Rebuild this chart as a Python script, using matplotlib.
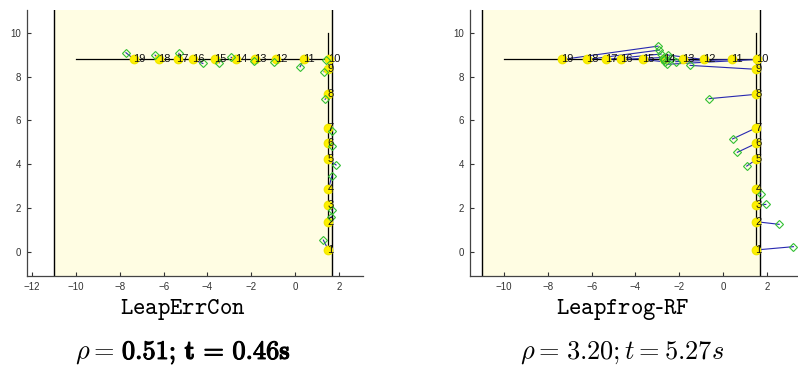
import matplotlib
matplotlib.use("Agg")
import matplotlib.pyplot as plt
import matplotlib.patheffects as pe
from matplotlib.patches import Rectangle

plt.rcParams['mathtext.fontset'] = 'cm'
plt.rcParams['font.family'] = ['Liberation Sans', 'DejaVu Sans']

# ---- data ----
labels = [str(i) for i in range(1, 20)]
true_x = [1.52, 1.52, 1.52, 1.52, 1.52, 1.52, 1.52, 1.52, 1.52, 1.55,
          0.41, -0.87, -1.83, -2.69, -3.65, -4.67, -5.36, -6.20, -7.34]
true_y = [0.08, 1.37, 2.13, 2.85, 4.22, 4.95, 5.66, 7.19, 8.33, 8.78,
          8.78, 8.78, 8.78, 8.78, 8.78, 8.78, 8.78, 8.78, 8.78]

est_left_x = [1.29, 1.65, 1.68, 1.68, 1.87, 1.70, 1.68, 1.37, 1.32, 1.42,
              0.23, -0.96, -1.87, -2.92, -3.46, -4.21, -5.30, -6.39, -7.72]
est_left_y = [0.53, 1.60, 1.90, 3.46, 3.96, 4.84, 5.51, 6.96, 8.22, 8.75,
              8.45, 8.66, 8.71, 8.88, 8.63, 8.60, 9.06, 8.98, 9.09]

est_right_x = [3.21, 2.56, 1.95, 1.72, 1.08, 0.65, 0.43, -0.64, -1.51, -2.57,
               -2.16, -2.50, -2.69, -2.40, -2.65, -2.75, -2.83, -2.91, -2.97]
est_right_y = [0.23, 1.25, 2.16, 2.62, 3.91, 4.54, 5.15, 6.99, 8.51, 8.56,
               8.68, 8.98, 8.75, 8.85, 8.67, 8.87, 9.03, 9.21, 9.39]

path_h_x = [-10, 1.52]
path_h_y = [8.78, 8.78]
path_v_x = [1.52, 1.52]
path_v_y = [0, 10]

region_x0, region_x1 = -11.0, 1.70

xticks_left = [-12, -10, -8, -6, -4, -2, 0, 2]
xticks_right = [-10, -8, -6, -4, -2, 0, 2]
yticks = [0, 2, 4, 6, 8, 10]

method_names = [r"$\mathtt{LeapErrCon}$", r"$\mathtt{Leapfrog\text{-}RF}$"]
# (prefix, value part, bold?)
stats = [(r"$\rho =$", r"$\mathbf{0.51;\,t\,=\,0.46s}$", True),
         (r"$\rho =$", r"$3.20; t = 5.27s$", False)]

W, H = 798, 374
fig = plt.figure(figsize=(W / 100, H / 100), dpi=100)


def make_axes(left, right, top, bottom):
    return fig.add_axes([left / W, 1 - bottom / H, (right - left) / W, (bottom - top) / H])


def draw_panel(ax, xlim, est_x, est_y, xticks):
    ax.set_xlim(*xlim)
    ax.set_ylim(-1.11, 11.04)
    ax.add_patch(Rectangle((region_x0, -5), region_x1 - region_x0, 20,
                           facecolor='#FFFDE3', edgecolor='black', lw=1.0, zorder=0))
    ax.plot(path_h_x, path_h_y, color='black', lw=0.9, zorder=1)
    ax.plot(path_v_x, path_v_y, color='black', lw=0.9, zorder=1)
    for tx, ty, ex, ey in zip(true_x, true_y, est_x, est_y):
        ax.plot([tx, ex], [ty, ey], color='#2828B0', lw=0.8, zorder=2)
    ax.plot(true_x, true_y, 'o', color='#FFF000', ms=6, mec='#F0E800', zorder=3)
    ax.plot(est_x, est_y, 'D', mfc='none', mec='#33C033', ms=4.5, mew=0.8, zorder=4)
    for lab, tx, ty in zip(labels, true_x, true_y):
        ax.text(tx - 0.05, ty, lab, fontsize=8, ha='left', va='center', color='#111111', zorder=5)
    for s in ['top', 'right']:
        ax.spines[s].set_visible(False)
    for s in ['left', 'bottom']:
        ax.spines[s].set_color('#444444')
        ax.spines[s].set_linewidth(0.9)
    ax.set_xticks(xticks)
    ax.set_yticks(yticks)
    ax.tick_params(direction='in', length=3, width=0.8, labelsize=7,
                   colors='#333333', pad=4)


ax1 = make_axes(26.7, 363, 10, 276)
draw_panel(ax1, (-12.25, 3.1), est_left_x, est_left_y, xticks_left)

ax2 = make_axes(469.7, 798, 10, 276)
draw_panel(ax2, (-11.57, 3.42), est_right_x, est_right_y, xticks_right)

renderer = fig.canvas.get_renderer()
fs2 = 19
for cx, name, (pre, val, bold) in zip([183, 622], method_names, stats):
    fig.text(cx / W, 1 - 310 / H, name, ha='center', va='center', fontsize=17)
    base_y = 1 - 359 / H
    t1 = fig.text(0, base_y, pre, ha='left', va='baseline', fontsize=fs2)
    t2 = fig.text(0, base_y, val, ha='left', va='baseline', fontsize=fs2)
    if bold:
        t2.set_path_effects([pe.withStroke(linewidth=0.8, foreground='black')])
    w1 = t1.get_window_extent(renderer).width
    w2 = t2.get_window_extent(renderer).width
    gap = 0.28 * fs2 * 100 / 72
    x0 = cx - (w1 + gap + w2) / 2
    t1.set_x(x0 / W)
    t2.set_x((x0 + w1 + gap) / W)

fig.savefig('out.png', dpi=100)
